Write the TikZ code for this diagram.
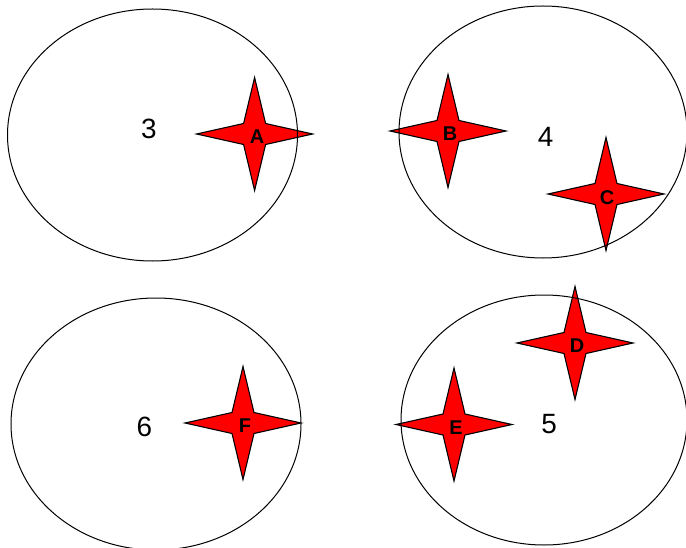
\documentclass[tikz,border=0pt]{standalone}
\usepackage{fontspec}
\setmainfont{Liberation Sans}
\tikzset{
  fourstar/.pic={\filldraw[fill=red,draw=black,line width=1.1bp]
    (58,0)--(11,10.5)--(0,56.5)--(-11,10.5)--(-58,0)--(-11,-10.5)--(0,-56.5)--(11,-10.5)--cycle;},
  ring/.style={draw=black,line width=1bp},
  lettr/.style={font=\bfseries\fontsize{20}{20}\selectfont,inner sep=0pt},
  numlbl/.style={font=\fontsize{28}{28}\selectfont,inner sep=0pt},
}
\begin{document}
\begin{tikzpicture}[x=1bp,y=-1bp]
\useasboundingbox (0,0) rectangle (686,548);
% stars
\pic (sa) at (254.6,134) {fourstar};
\pic (sb) at (448,131) {fourstar};
\pic (sc) at (606,194) {fourstar};
\pic (sd) at (575,343) {fourstar};
\pic (se) at (454,424.5) {fourstar};
\pic (sf) at (243,423) {fourstar};
% ellipses
\draw[ring] (152.5,135) ellipse [x radius=145, y radius=126];
\draw[ring] (543,132) ellipse [x radius=144, y radius=126];
\draw[ring] (156,424) ellipse [x radius=145, y radius=126];
\draw[ring] (544,420) ellipse [x radius=143, y radius=125];
% letters
\node[lettr] (a) at (257,137) {A};
\node[lettr] (b) at (450,134) {B};
\node[lettr] (c) at (607,198) {C};
\node[lettr] (d) at (577,346) {D};
\node[lettr] (e) at (456,428) {E};
\node[lettr] (f) at (245,426) {F};
% numbers
\node[numlbl] (n3) at (149,129) {3};
\node[numlbl] (n4) at (545.5,137) {4};
\node[numlbl] (n6) at (144.5,427) {6};
\node[numlbl] (n5) at (549,424) {5};
\end{tikzpicture}
\end{document}
